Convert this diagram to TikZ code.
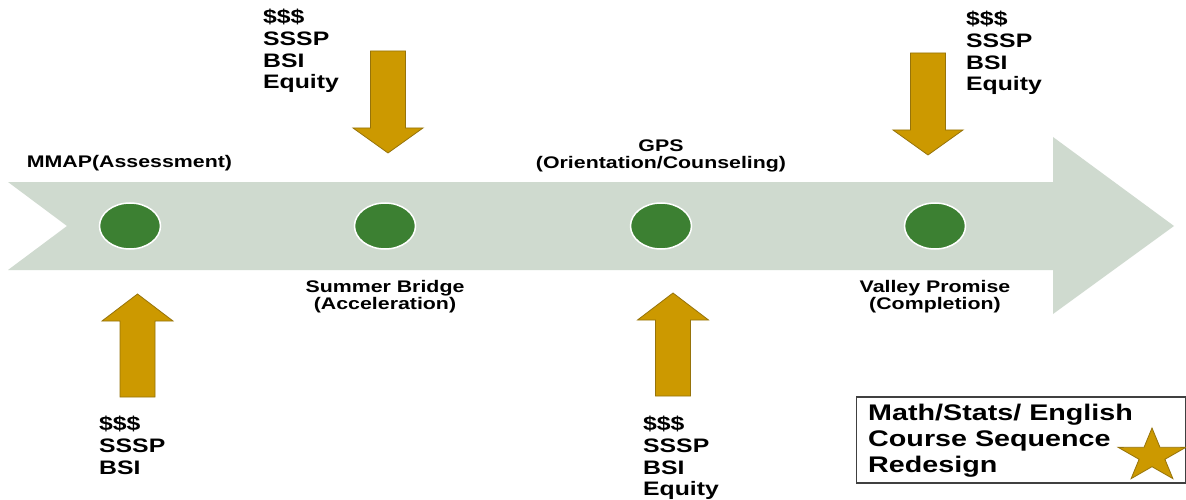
\documentclass[tikz,border=0pt]{standalone}
\usepackage{fontspec}
\usetikzlibrary{shapes.geometric}
\newfontfamily\arx[FakeStretch=1.27]{Liberation Sans}
\definecolor{band}{RGB}{207,218,207}
\definecolor{dot}{RGB}{60,128,50}
\definecolor{gold}{RGB}{204,153,0}
\definecolor{goldedge}{RGB}{150,115,10}
\begin{document}
\begin{tikzpicture}[x=1pt,y=-1pt,
  goldshape/.style={fill=gold,draw=goldedge,line width=0.8pt,line join=miter},
  dotnode/.style={ellipse,fill=dot,draw=white,line width=1.5pt,minimum width=61pt,minimum height=46pt,inner sep=0pt},
  lab/.style={font=\arx\bfseries\fontsize{16.8}{17}\selectfont,align=center,inner sep=0pt,text=black},
  list/.style={font=\arx\bfseries\fontsize{19.5}{21.7}\selectfont,align=left,inner sep=0pt,anchor=north west,text=black},
  boxtext/.style={font=\arx\bfseries\fontsize{22.6}{26}\selectfont,align=left,inner sep=0pt,anchor=north west,text=black},
  downarr/.pic={\draw[goldshape] (0,0) -- (-35,-25) -- (-17.5,-25) -- (-17.5,-102) -- (17.5,-102) -- (17.5,-25) -- (35,-25) -- cycle;},
  uparr/.pic={\draw[goldshape] (0,0) -- (-35.5,27) -- (-17.5,27) -- (-17.5,103) -- (17.5,103) -- (17.5,27) -- (35.5,27) -- cycle;}
]
\useasboundingbox[fill=white] (0,0) rectangle (1186,500);
% main band arrow
\fill[band] (8,182) -- (1053,182) -- (1053,137) -- (1174,226) -- (1053,314) -- (1053,270) -- (8,270) -- (67,226) -- cycle;
% milestones
\node[dotnode] (c1) at (130,226) {};
\node[dotnode] (c2) at (385,226) {};
\node[dotnode] (c3) at (661,226) {};
\node[dotnode] (c4) at (935,226) {};
% labels
\node[lab] (l1) at (129.5,163) {MMAP(Assessment)};
\node[lab,anchor=north] (l2) at (385,280) {Summer Bridge\\(Acceleration)};
\node[lab,anchor=north] (l3) at (661,140) {GPS\\(Orientation/Counseling)};
\node[lab,anchor=north] (l4) at (935,280) {Valley Promise\\(Completion)};
% gold arrows
\pic at (388,153) {downarr};
\pic at (928,155) {downarr};
\pic at (137.5,294) {uparr};
\pic at (673,293) {uparr};
% funding lists
\node[list] (f1) at (263,9) {\$\$\$\\SSSP\\BSI\\Equity};
\node[list] (f2) at (966,11) {\$\$\$\\SSSP\\BSI\\Equity};
\node[list] (f3) at (99,416) {\$\$\$\\SSSP\\BSI};
\node[list] (f4) at (643,416) {\$\$\$\\SSSP\\BSI\\Equity};
% legend box
\node[draw=black!75,line width=1.5pt,anchor=north west,minimum width=329pt,minimum height=86pt,inner sep=0pt] (box) at (855.5,396) {};
\node[boxtext] (bt) at (868,404) {Math/Stats/ English\\Course Sequence\\Redesign};
\begin{scope}[shift={(1152,456)},xscale=1.27,yscale=-1]
\draw[goldshape] (90:28)--(126:10.7)--(162:28)--(198:10.7)--(234:28)--(270:10.7)--(306:28)--(342:10.7)--(18:28)--(54:10.7)--cycle;
\end{scope}
\end{tikzpicture}
\end{document}
